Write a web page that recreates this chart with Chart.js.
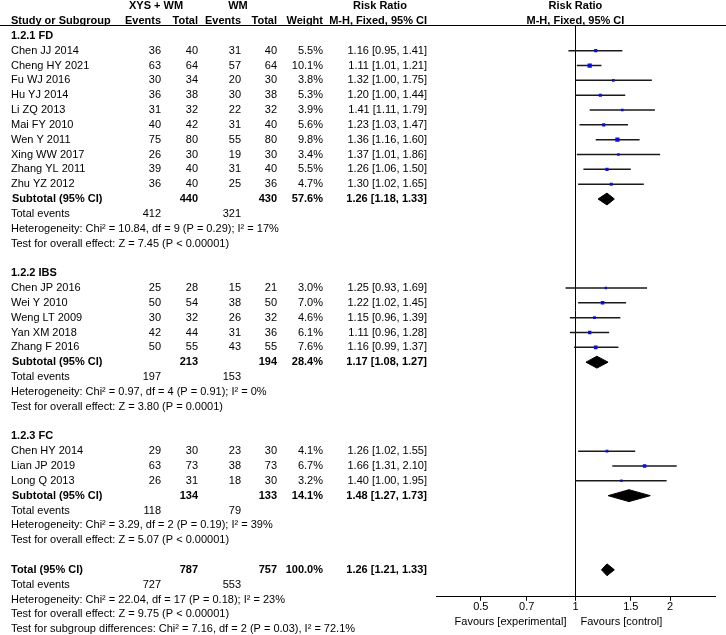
<!DOCTYPE html>
<html>
<head>
<meta charset="utf-8">
<title>Forest plot</title>
<script src="https://cdn.jsdelivr.net/npm/chart.js@4.4.1/dist/chart.umd.min.js"></script>
<style>
  body { margin: 0; background: #fff; }
  canvas { display: block; }
</style>
</head>
<body>
<canvas id="forest" width="726" height="635"></canvas>
<script>
// study rows
var studies = ['Chen JJ 2014', 'Cheng HY 2021', 'Fu WJ 2016', 'Hu YJ 2014', 'Li ZQ 2013', 'Mai FY 2010',
  'Wen Y 2011', 'Xing WW 2017', 'Zhang YL 2011', 'Zhu YZ 2012',
  'Chen JP 2016', 'Wei Y 2010', 'Weng LT 2009', 'Yan XM 2018', 'Zhang F 2016',
  'Chen HY 2014', 'Lian JP 2019', 'Long Q 2013'];
var groupOf = [0, 0, 0, 0, 0, 0, 0, 0, 0, 0, 1, 1, 1, 1, 1, 2, 2, 2];
var expEvents = [36, 63, 30, 36, 31, 40, 75, 26, 39, 36, 25, 50, 30, 42, 50, 29, 63, 26];
var expTotal = [40, 64, 34, 38, 32, 42, 80, 30, 40, 40, 28, 54, 32, 44, 55, 30, 73, 31];
var ctrlEvents = [31, 57, 20, 30, 22, 31, 55, 19, 31, 25, 15, 38, 26, 31, 43, 23, 38, 18];
var ctrlTotal = [40, 64, 30, 38, 32, 40, 80, 30, 40, 36, 21, 50, 32, 36, 55, 30, 73, 30];
var weight = [5.5, 10.1, 3.8, 5.3, 3.9, 5.6, 9.8, 3.4, 5.5, 4.7, 3.0, 7.0, 4.6, 6.1, 7.6, 4.1, 6.7, 3.2];
var rr = [1.16, 1.11, 1.32, 1.20, 1.41, 1.23, 1.36, 1.37, 1.26, 1.30, 1.25, 1.22, 1.15, 1.11, 1.16, 1.26, 1.66, 1.40];
var rrLo = [0.95, 1.01, 1.00, 1.00, 1.11, 1.03, 1.16, 1.01, 1.06, 1.02, 0.93, 1.02, 0.96, 0.96, 0.99, 1.02, 1.31, 1.00];
var rrHi = [1.41, 1.21, 1.75, 1.44, 1.79, 1.47, 1.60, 1.86, 1.50, 1.65, 1.69, 1.45, 1.39, 1.28, 1.37, 1.55, 2.10, 1.95];

// subgroups
var groupNames = ['1.2.1 FD', '1.2.2 IBS', '1.2.3 FC'];
var subExpTotal = [440, 213, 134];
var subCtrlTotal = [430, 194, 133];
var subWeight = [57.6, 28.4, 14.1];
var subRR = [1.26, 1.17, 1.48];
var subLo = [1.18, 1.08, 1.27];
var subHi = [1.33, 1.27, 1.73];
var subExpEvents = [412, 197, 118];
var subCtrlEvents = [321, 153, 79];
var subHet = ['Chi\u00b2 = 10.84, df = 9 (P = 0.29); I\u00b2 = 17%',
  'Chi\u00b2 = 0.97, df = 4 (P = 0.91); I\u00b2 = 0%',
  'Chi\u00b2 = 3.29, df = 2 (P = 0.19); I\u00b2 = 39%'];
var subZ = ['Z = 7.45 (P < 0.00001)', 'Z = 3.80 (P = 0.0001)', 'Z = 5.07 (P < 0.00001)'];

// overall
var totExpTotal = 787, totCtrlTotal = 757, totWeight = 100.0;
var totRR = 1.26, totLo = 1.21, totHi = 1.33;
var totExpEvents = 727, totCtrlEvents = 553;
var totHet = 'Chi\u00b2 = 22.04, df = 17 (P = 0.18); I\u00b2 = 23%';
var totZ = 'Z = 9.75 (P < 0.00001)';
var subgroupDiff = 'Chi\u00b2 = 7.16, df = 2 (P = 0.03), I\u00b2 = 72.1%';

var xTicks = [0.5, 0.7, 1, 1.5, 2];

var FONT = '"Liberation Sans", Arial, sans-serif';

function fmtCI(m, l, h) {
  return m.toFixed(2) + ' [' + l.toFixed(2) + ', ' + h.toFixed(2) + ']';
}

// lay out the table rows (row numbers feed the y scale)
var rows = [];
var studyRow = [];
var diamonds = [];
var r = 0;
for (var g = 0; g < groupNames.length; g++) {
  rows.push({ row: r++, type: 'head', text: groupNames[g] });
  for (var i = 0; i < studies.length; i++) {
    if (groupOf[i] != g) continue;
    studyRow[i] = r;
    rows.push({ row: r++, type: 'study', i: i });
  }
  diamonds.push({ row: r, m: subRR[g], l: subLo[g], h: subHi[g] });
  rows.push({ row: r++, type: 'sum', label: 'Subtotal (95% CI)', et: subExpTotal[g], ct: subCtrlTotal[g], w: subWeight[g], m: subRR[g], l: subLo[g], h: subHi[g], indent: true });
  rows.push({ row: r++, type: 'events', e: subExpEvents[g], c: subCtrlEvents[g] });
  rows.push({ row: r++, type: 'note', text: 'Heterogeneity: ' + subHet[g] });
  rows.push({ row: r++, type: 'note', text: 'Test for overall effect: ' + subZ[g] });
  r++;
}
diamonds.push({ row: r, m: totRR, l: totLo, h: totHi });
rows.push({ row: r++, type: 'sum', label: 'Total (95% CI)', et: totExpTotal, ct: totCtrlTotal, w: totWeight, m: totRR, l: totLo, h: totHi });
rows.push({ row: r++, type: 'events', e: totExpEvents, c: totCtrlEvents });
rows.push({ row: r++, type: 'note', text: 'Heterogeneity: ' + totHet });
rows.push({ row: r++, type: 'note', text: 'Test for overall effect: ' + totZ });
rows.push({ row: r++, type: 'note', text: 'Test for subgroup differences: ' + subgroupDiff });

// datasets
var pointData = [];
var whiskerData = [];
for (var i = 0; i < studies.length; i++) {
  pointData.push({ x: rr[i], y: studyRow[i] });
  whiskerData.push({ x: rrLo[i], y: studyRow[i] }, { x: rrHi[i], y: studyRow[i] }, { x: NaN, y: NaN });
}

var datasets = [
  {
    label: 'studies',
    data: pointData,
    pointStyle: 'rect',
    backgroundColor: '#0c0ce6',
    borderWidth: 0,
    pointRadius: function(c) { return 0.95 * Math.sqrt(weight[c.dataIndex]); },
    order: 0
  },
  {
    label: 'ci',
    data: whiskerData,
    showLine: true,
    borderColor: '#1a1a1a',
    borderWidth: 1.5,
    pointRadius: 0,
    spanGaps: false,
    order: 1
  }
];

var halfH = 0.4; // diamond half height in rows
diamonds.forEach(function(d) {
  datasets.push({
    data: [{ x: d.l, y: d.row }, { x: d.m, y: d.row - halfH }, { x: d.h, y: d.row }],
    showLine: true, pointRadius: 0, borderColor: '#000', borderWidth: 1, fill: false, order: 2
  });
  datasets.push({
    data: [{ x: d.l, y: d.row }, { x: d.m, y: d.row + halfH }, { x: d.h, y: d.row }],
    showLine: true, pointRadius: 0, borderColor: '#000', borderWidth: 1,
    fill: '-1', backgroundColor: '#000', order: 2
  });
});

// table text drawn on the same canvas, rows placed with the y scale
var tablePlugin = {
  id: 'table',
  afterDraw: function(chart) {
    var ctx = chart.ctx;
    var ys = chart.scales.y, xs = chart.scales.x;
    var area = chart.chartArea;
    var x1 = xs.getPixelForValue(1);
    var col = { name: 11, expEv: 161, expTot: 198, ctrlEv: 241, ctrlTot: 277, weight: 323, ci: 427 };

    function txt(s, x, row, align, bold) {
      ctx.font = (bold ? 'bold ' : '') + '11px ' + FONT;
      ctx.textAlign = align || 'left';
      ctx.fillText(s, x, ys.getPixelForValue(row));
    }

    ctx.save();
    ctx.fillStyle = '#000';
    ctx.textBaseline = 'middle';

    // header
    txt('XYS + WM', 156, -2, 'center', true);
    txt('WM', 238, -2, 'center', true);
    txt('Risk Ratio', 380, -2, 'center', true);
    txt('Risk Ratio', x1, -2, 'center', true);
    txt('Study or Subgroup', col.name, -1, 'left', true);
    txt('Events', col.expEv, -1, 'right', true);
    txt('Total', col.expTot, -1, 'right', true);
    txt('Events', col.ctrlEv, -1, 'right', true);
    txt('Total', col.ctrlTot, -1, 'right', true);
    txt('Weight', col.weight, -1, 'right', true);
    txt('M-H, Fixed, 95% CI', col.ci, -1, 'right', true);
    txt('M-H, Fixed, 95% CI', x1, -1, 'center', true);

    rows.forEach(function(o) {
      if (o.type == 'head') {
        txt(o.text, col.name, o.row, 'left', true);
      } else if (o.type == 'study') {
        var i = o.i;
        txt(studies[i], col.name, o.row);
        txt(String(expEvents[i]), col.expEv, o.row, 'right');
        txt(String(expTotal[i]), col.expTot, o.row, 'right');
        txt(String(ctrlEvents[i]), col.ctrlEv, o.row, 'right');
        txt(String(ctrlTotal[i]), col.ctrlTot, o.row, 'right');
        txt(weight[i].toFixed(1) + '%', col.weight, o.row, 'right');
        txt(fmtCI(rr[i], rrLo[i], rrHi[i]), col.ci, o.row, 'right');
      } else if (o.type == 'sum') {
        txt(o.label, o.indent ? col.name + 1 : col.name, o.row, 'left', true);
        txt(String(o.et), col.expTot, o.row, 'right', true);
        txt(String(o.ct), col.ctrlTot, o.row, 'right', true);
        txt(o.w.toFixed(1) + '%', col.weight, o.row, 'right', true);
        txt(fmtCI(o.m, o.l, o.h), col.ci, o.row, 'right', true);
      } else if (o.type == 'events') {
        txt('Total events', col.name, o.row);
        txt(String(o.e), col.expEv, o.row, 'right');
        txt(String(o.c), col.ctrlEv, o.row, 'right');
      } else {
        txt(o.text, col.name, o.row);
      }
    });

    // header rule
    ctx.strokeStyle = '#000';
    ctx.lineWidth = 1;
    ctx.beginPath();
    ctx.moveTo(0, Math.round(area.top) + 0.5);
    ctx.lineTo(chart.width, Math.round(area.top) + 0.5);
    ctx.stroke();

    // favours labels under the axis
    ctx.font = '11px ' + FONT;
    ctx.textAlign = 'right';
    ctx.fillText('Favours [experimental]', x1 - 9, area.bottom + 25);
    ctx.textAlign = 'left';
    ctx.fillText('Favours [control]', x1 + 5, area.bottom + 25);
    ctx.restore();
  }
};

Chart.defaults.font.family = FONT;
Chart.defaults.font.size = 11;
Chart.defaults.color = '#000';

new Chart(document.getElementById('forest'), {
  type: 'scatter',
  data: { datasets: datasets },
  options: {
    responsive: false,
    animation: false,
    layout: { padding: { left: 436, right: 11, top: 25, bottom: 21 } },
    plugins: { legend: { display: false }, tooltip: { enabled: false } },
    scales: {
      x: {
        type: 'logarithmic',
        min: 0.36,
        max: 2.78,
        bounds: 'data',
        afterBuildTicks: function(axis) {
          axis.ticks = xTicks.map(function(v) { return { value: v }; });
        },
        ticks: {
          autoSkip: false,
          maxRotation: 0,
          padding: 0,
          color: '#000',
          callback: function(v) { return String(v); }
        },
        grid: {
          drawOnChartArea: true,
          color: function(c) { return (c.tick && c.tick.value === 1) ? '#000' : 'rgba(0,0,0,0)'; },
          tickColor: '#000',
          tickLength: 4,
          lineWidth: 1
        },
        border: { display: true, color: '#000', width: 1 }
      },
      y: {
        type: 'linear',
        display: false,
        reverse: true,
        min: -0.732,
        max: 37.82
      }
    }
  },
  plugins: [tablePlugin]
});
</script>
</body>
</html>
